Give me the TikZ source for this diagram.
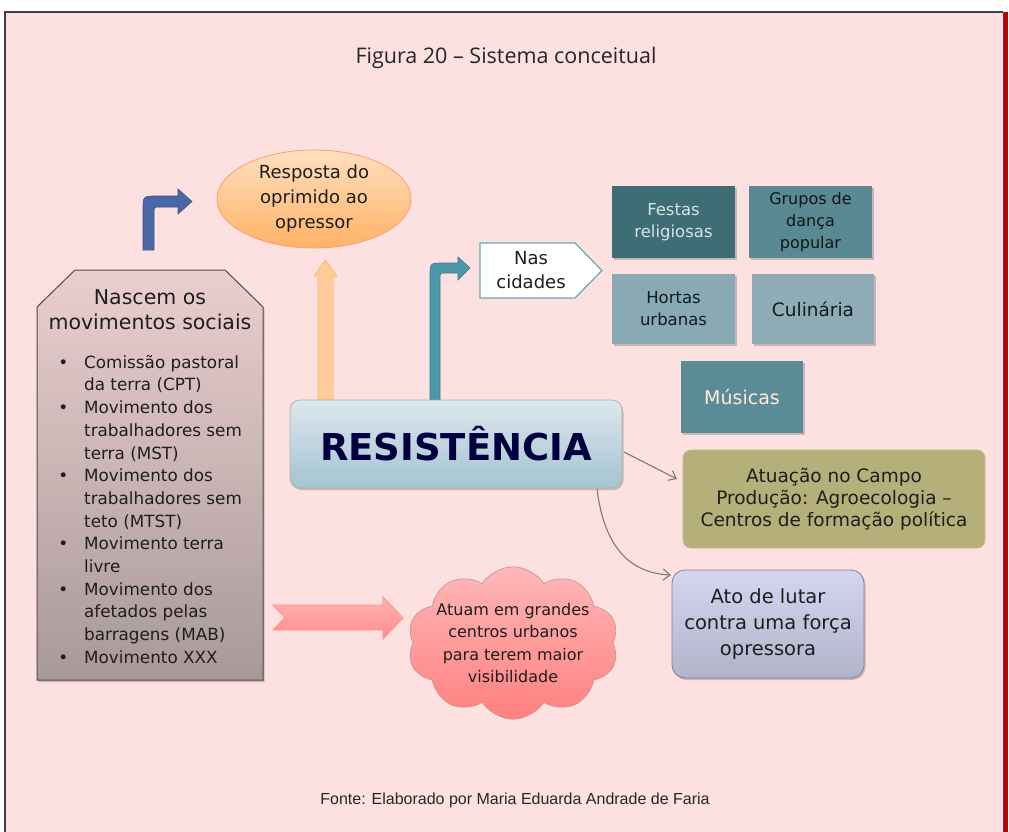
\documentclass[tikz,border=0pt]{standalone}
\usepackage{fontspec}
\setmainfont{DejaVu Sans}
\newfontfamily\titlefont{Open Sans}
\newfontfamily\footfont{Liberation Sans}
\usetikzlibrary{shapes.symbols,shapes.geometric,arrows.meta,shadows}
\definecolor{bgpink}{HTML}{FDE1E1}
\definecolor{frame}{HTML}{404040}
\definecolor{txt}{HTML}{1E1E1E}
\definecolor{tealA}{HTML}{3E6D76}
\definecolor{tealB}{HTML}{5A8994}
\definecolor{tealC}{HTML}{89A9B4}
\definecolor{tealD}{HTML}{8EABB6}
\definecolor{tealE}{HTML}{5B8B97}
\definecolor{olive}{HTML}{B5B07A}
\definecolor{bluearr}{HTML}{4A68A8}
\definecolor{tealarr}{HTML}{4A98A8}
\definecolor{conn}{HTML}{7A7A7A}
\definecolor{resTop}{HTML}{DDE7EE}
\definecolor{resBot}{HTML}{A4C3D1}
\begin{document}
\begin{tikzpicture}[x=1pt,y=-1pt,
  softshadow/.style={drop shadow={shadow xshift=1.5pt,shadow yshift=-2pt,opacity=.35,fill=black!60}},
  tealbox/.style={rectangle,inner sep=0pt,align=center,minimum width=123,minimum height=72,softshadow},
  connector/.style={draw=conn,line width=1.1pt,-{Straight Barb[length=7pt,width=11pt]}},
  lbl/.style={align=center,text=txt,inner sep=0pt}
]
\useasboundingbox (0,0) rectangle (1009,832);
\fill[white] (0,0) rectangle (1009,832);
% frame
\fill[bgpink] (5,12) rectangle (1003,832);
\draw[frame,line width=1.2pt] (5,832) -- (5,12) -- (1003,12);
\fill[red!75!black] (1003,12) rectangle (1008,832);
\draw[frame,line width=0.8pt] (1003,12) -- (1003,832);

% title
\node[lbl,font=\titlefont\fontsize{21.5}{24}\selectfont,text=black!85] (title) at (506,58) {Figura 20 – Sistema conceitual};
% footer
\node[lbl,font=\footfont\fontsize{16}{18}\selectfont,text=black!85] (foot) at (515,800) {Fonte: Elaborado por Maria Eduarda Andrade de Faria};

% left box
\path[draw=black!70,line width=1pt,top color=red!12!white!92!black,bottom color=red!15!black!40,softshadow]
  (37,307) -- (75,270) -- (225,270) -- (263,307) -- (263,680) -- (37,680) -- cycle;
\node[lbl,font=\fontsize{20.5}{25}\selectfont] (movhead) at (150,310) {Nascem os\\movimentos sociais};
\node[anchor=north west,align=left,text=txt,inner sep=0pt,font=\fontsize{16.8}{22.7}\selectfont] (movlist) at (84,355)
 {\llap{•\hspace{16pt}}Comissão pastoral\\
  da terra (CPT)\\
  \llap{•\hspace{16pt}}Movimento dos\\
  trabalhadores sem\\
  terra (MST)\\
  \llap{•\hspace{16pt}}Movimento dos\\
  trabalhadores sem\\
  teto (MTST)\\
  \llap{•\hspace{16pt}}Movimento terra\\
  livre\\
  \llap{•\hspace{16pt}}Movimento dos\\
  afetados pelas\\
  barragens (MAB)\\
  \llap{•\hspace{16pt}}Movimento XXX};

% blue bent arrow
\path[fill=bluearr,draw=bluearr!80!black,line width=0.6pt]
  (143,250) -- (143,210) .. controls (143,196) .. (157,196) -- (178,196) -- (178,189) -- (192,201.5)
  -- (178,214) -- (178,207) -- (160,207) .. controls (154,207) .. (154,213) -- (154,250) -- cycle;

% ellipse
\node[ellipse,draw=orange!70!red!60,line width=0.8pt,top color=orange!25!white,bottom color=orange!60!white,
  minimum width=194,minimum height=98,inner sep=0pt,align=center,text=txt,
  font=\fontsize{18}{25}\selectfont] (resp) at (314,199) {Resposta do\\oprimido ao\\opressor};

% orange up arrow
\path[fill=orange!40!white,draw=orange!55!white,line width=0.8pt]
  (318,400) -- (318,276) -- (314,276) -- (325.5,260) -- (337,276) -- (333,276) -- (333,400) -- cycle;

% teal bent arrow
\path[fill=tealarr,draw=tealarr!80!black,line width=0.6pt]
  (430,400) -- (430,276) .. controls (430,263) .. (443,263) -- (458,263) -- (458,257) -- (470,268)
  -- (458,280) -- (458,273) -- (446,273) .. controls (440,273) .. (440,279) -- (440,400) -- cycle;

% Nas cidades
\path[fill=white,draw=tealarr!85!white,line width=1.2pt]
  (480,243) -- (575,243) -- (602,270.5) -- (575,298) -- (480,298) -- cycle;
\node[lbl,font=\fontsize{18}{24}\selectfont] (nas) at (531,270) {Nas\\cidades};

% teal boxes
\node[tealbox,fill=tealA,text=white!80!tealA,font=\fontsize{16.5}{22}\selectfont] (festas) at (673.5,222) {Festas\\religiosas};
\node[tealbox,fill=tealB,text=black!80!tealA,font=\fontsize{16}{22}\selectfont] (grupos) at (810.5,222) {Grupos de\\dança\\popular};
\node[tealbox,fill=tealC,minimum height=70,text=black!75!tealA,font=\fontsize{16.5}{22}\selectfont] (hortas) at (673.5,309) {Hortas\\urbanas};
\node[tealbox,fill=tealD,minimum height=70,minimum width=122,text=black!75!tealA,font=\fontsize{18.5}{22}\selectfont] (culin) at (813,309) {Culinária};
\node[tealbox,fill=tealE,minimum width=122,text=orange!15!white,font=\fontsize{19}{22}\selectfont] (musicas) at (742,397) {Músicas};

% RESISTENCIA
\node[rectangle,rounded corners=10pt,draw=cyan!20!black!40,line width=0.8pt,
  top color=resTop,bottom color=resBot,
  minimum width=332,minimum height=88,inner sep=0pt,text=blue!25!black,
  font=\bfseries\fontsize{37}{40}\selectfont,softshadow] (res) at (456,444) {RESISTÊNCIA};

% Atuação no campo
\node[rectangle,rounded corners=8pt,fill=olive,draw=olive!85!white,line width=0.8pt,
  minimum width=302,minimum height=98,inner sep=0pt,align=center,text=txt,
  font=\fontsize{18.5}{22}\selectfont] (campo) at (834,499) {Atuação no Campo\\Produção: Agroecologia –\\Centros de formação política};

% Ato de lutar
\node[rectangle,rounded corners=13pt,draw=blue!25!black!50,line width=0.8pt,
  top color=blue!12!white!95!black,bottom color=blue!30!black!30!white,
  minimum width=192,minimum height=108,inner sep=0pt,align=center,text=txt,
  font=\fontsize{19.5}{26}\selectfont,softshadow] (ato) at (768,624) {Ato de lutar\\contra uma força\\opressora};

% pink notched arrow
\path[draw=red!45!white,line width=0.8pt,top color=red!30!white,bottom color=red!45!white]
  (273,605) -- (383,605) -- (383,597) -- (403,618) -- (383,639) -- (383,630) -- (273,630) -- (285,617.5) -- cycle;

% cloud
\node[cloud,cloud puffs=10,cloud puff arc=115,aspect=1.6,draw=red!50!black!40,line width=0.8pt,
  top color=red!28!white,bottom color=red!50!white,
  inner xsep=-6pt,inner ysep=-12pt,align=center,text=txt,
  font=\fontsize{16}{22.5}\selectfont] (cloud) at (513,643) {Atuam em grandes\\centros urbanos\\para terem maior\\visibilidade};

% connectors
\coordinate (c1s) at (624,452);
\coordinate (c1e) at (677,479);
\draw[connector] (c1s) -- (c1e);
\coordinate (c2s) at (597,489);
\coordinate (c2e) at (671,575);
\draw[connector] (c2s) .. controls (604,545) and (628,573) .. (c2e);
\end{tikzpicture}
\end{document}
